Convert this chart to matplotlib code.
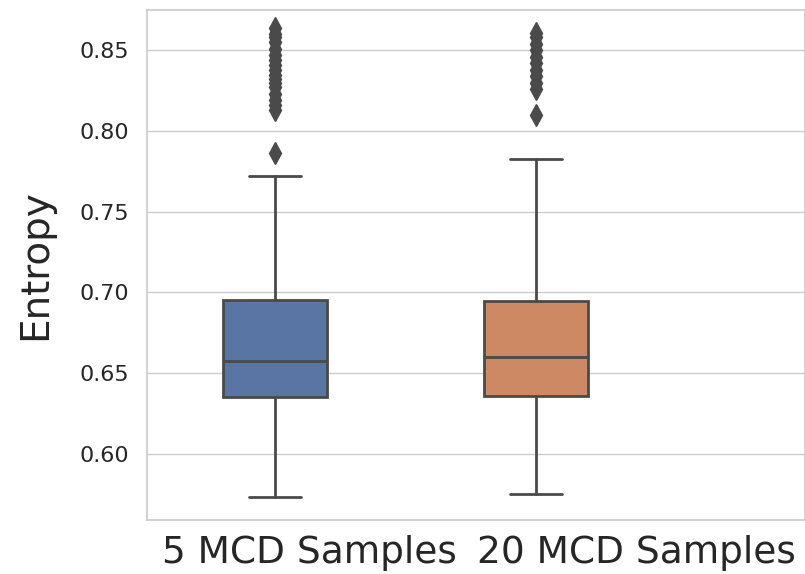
import matplotlib
matplotlib.use("Agg")
import matplotlib.pyplot as plt
import seaborn as sns

# ==== DATA ====
labels = ["5 MCD Samples", "20 MCD Samples"]
q1 = [0.635, 0.6357]
median = [0.6576, 0.6601]
q3 = [0.6953, 0.6946]
whisker_lo = [0.5731, 0.5754]
whisker_hi = [0.7723, 0.7829]
fliers_5 = [0.7866, 0.813, 0.816, 0.819, 0.823, 0.827, 0.830, 0.832, 0.835,
            0.838, 0.841, 0.844, 0.847, 0.851, 0.855, 0.858, 0.860, 0.864]
fliers_20 = [0.810, 0.826, 0.830, 0.834, 0.838, 0.842, 0.846, 0.850, 0.854,
             0.858, 0.861]
colors = ["#5875A4", "#CC8963"]

sns.set_theme(style="whitegrid")

fig = plt.figure(figsize=(8.05, 5.74), dpi=100)
ax = fig.add_axes([0.1826, 0.094, 0.8174, 0.8886])

stats = []
for i, fl in enumerate([fliers_5, fliers_20]):
    stats.append({
        "label": labels[i],
        "q1": q1[i], "med": median[i], "q3": q3[i],
        "whislo": whisker_lo[i], "whishi": whisker_hi[i],
        "fliers": fl,
    })

line_c = "#4a4a4a"
lw = 2.0
bp = ax.bxp(stats, positions=[0, 1], widths=0.4, patch_artist=True,
            boxprops=dict(edgecolor=line_c, linewidth=lw),
            medianprops=dict(color=line_c, linewidth=lw),
            whiskerprops=dict(color=line_c, linewidth=lw),
            capprops=dict(color=line_c, linewidth=lw),
            flierprops=dict(marker="d", markerfacecolor=line_c,
                            markeredgecolor=line_c, markersize=11))
for patch, c in zip(bp["boxes"], colors):
    patch.set_facecolor(c)

ax.set_xlim(-0.49, 2.03)
ax.set_ylim(0.559, 0.875)
ax.set_yticks([0.60, 0.65, 0.70, 0.75, 0.80, 0.85])
ax.set_yticklabels(["0.60", "0.65", "0.70", "0.75", "0.80", "0.85"])
ax.tick_params(axis="y", labelsize=16, labelcolor="#262626", pad=7)
ax.tick_params(axis="x", pad=5)
ax.set_xticks([0.134, 1.383])
ax.set_xticklabels(labels, fontsize=27, color="#262626")
ax.xaxis.grid(False)
ax.set_ylabel("Entropy", fontsize=28, color="#262626", labelpad=18)
for s in ax.spines.values():
    s.set_color("#cccccc")

fig.savefig("out.png", dpi=100)
